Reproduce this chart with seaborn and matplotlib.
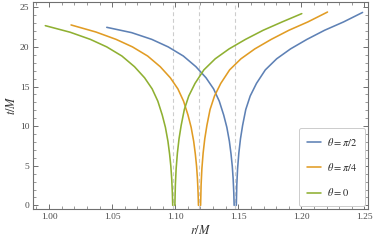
import numpy as np
import pandas as pd
import matplotlib
matplotlib.use("Agg")
import matplotlib.pyplot as plt
import seaborn as sns

# ---- data ----
labels = [r"$\theta=\pi/2$", r"$\theta=\pi/4$", r"$\theta=0$"]
colors = ["#5E81B5", "#E19C24", "#8FB032"]
r_horizon = [1.1474, 1.1191, 1.0986]

blue_r_left = [1.0457, 1.0654, 1.0814, 1.0944, 1.1064, 1.1164, 1.1244, 1.1304, 1.1349,
               1.1384, 1.1409, 1.1429, 1.1442, 1.1452, 1.1459, 1.1464, 1.1467]
blue_t_left = [22.47, 21.80, 20.95, 20.0, 18.85, 17.5, 16.1, 14.7, 13.15,
               11.4, 9.85, 8.1, 6.5, 4.95, 3.35, 1.6, 0.0]
blue_r_right = [1.1484, 1.1488, 1.1494, 1.1504, 1.1517, 1.1534, 1.1559, 1.1594,
                1.1644, 1.1714, 1.1804, 1.1914, 1.2044, 1.2184, 1.2334, 1.2485]
blue_t_right = [0.0, 2.6, 4.6, 6.6, 8.4, 10.1, 12.1, 13.8,
                15.4, 17.1, 18.5, 19.75, 20.95, 22.1, 23.15, 24.35]

orange_r_left = [1.0174, 1.0371, 1.0531, 1.0661, 1.0781, 1.0881, 1.0961, 1.1021, 1.1066,
                 1.1101, 1.1126, 1.1146, 1.1159, 1.1169, 1.1176, 1.1181, 1.1184]
orange_t_left = [22.77, 21.88, 20.95, 20.0, 18.85, 17.5, 16.1, 14.7, 13.15,
                 11.4, 9.85, 8.1, 6.5, 4.95, 3.35, 1.6, 0.0]
orange_r_right = [1.1201, 1.1205, 1.1211, 1.1221, 1.1234, 1.1251, 1.1276, 1.1311,
                  1.1361, 1.1431, 1.1521, 1.1631, 1.1761, 1.1901, 1.2051, 1.2207]
orange_t_right = [0.0, 2.6, 4.6, 6.6, 8.4, 10.1, 12.1, 13.8,
                  15.4, 17.1, 18.5, 19.75, 20.95, 22.1, 23.15, 24.4]

green_r_left = [0.9970, 1.0167, 1.0327, 1.0457, 1.0577, 1.0677, 1.0757, 1.0817, 1.0862,
                1.0897, 1.0922, 1.0942, 1.0955, 1.0965, 1.0972, 1.0977, 1.0980]
green_t_left = [22.68, 21.85, 20.95, 20.0, 18.85, 17.5, 16.1, 14.7, 13.15,
                11.4, 9.85, 8.1, 6.5, 4.95, 3.35, 1.6, 0.0]
green_r_right = [1.0997, 1.1001, 1.1007, 1.1017, 1.1030, 1.1047, 1.1072, 1.1107,
                 1.1157, 1.1227, 1.1317, 1.1427, 1.1557, 1.1697, 1.1847, 1.2003]
green_t_right = [0.0, 2.6, 4.6, 6.6, 8.4, 10.1, 12.1, 13.8,
                 15.4, 17.1, 18.5, 19.75, 20.95, 22.1, 23.15, 24.2]

xticks = [1.00, 1.05, 1.10, 1.15, 1.20, 1.25]
yticks = [0, 5, 10, 15, 20, 25]

# ---- build table ----
rows = []
series = [
    (labels[0], blue_r_left, blue_t_left, blue_r_right, blue_t_right),
    (labels[1], orange_r_left, orange_t_left, orange_r_right, orange_t_right),
    (labels[2], green_r_left, green_t_left, green_r_right, green_t_right),
]
for lab, rl, tl, rr, tr in series:
    for r, t in zip(rl, tl):
        rows.append((lab, "L", r, t))
    for r, t in zip(rr, tr):
        rows.append((lab, "R", r, t))
df = pd.DataFrame(rows, columns=["theta", "branch", "r", "t"])

sns.set_style("ticks")
plt.rcParams["font.family"] = ["Liberation Serif", "DejaVu Serif"]
plt.rcParams["mathtext.fontset"] = "stix"

fig = plt.figure(figsize=(3.74, 2.46), dpi=100)
ax = fig.add_axes([0.0874, 0.150, 0.8966, 0.842])

for rh in r_horizon:
    ax.axvline(rh, color="#cdcdcd", lw=0.8, ls=(0, (3.5, 2.5)), zorder=1)

sns.lineplot(data=df, x="r", y="t", hue="theta", units="branch", estimator=None,
             sort=False, palette=dict(zip(labels, colors)), hue_order=labels,
             lw=1.15, ax=ax, zorder=3)

ax.set_xlim(0.987, 1.2528)
ax.set_ylim(-0.47, 25.67)
ax.set_xticks(xticks)
ax.set_xticklabels([f"{v:.2f}" for v in xticks])
ax.set_yticks(yticks)
ax.xaxis.set_minor_locator(matplotlib.ticker.MultipleLocator(0.01))
ax.yaxis.set_minor_locator(matplotlib.ticker.MultipleLocator(1))
frame_col = "#707070"
for s in ax.spines.values():
    s.set_color(frame_col)
    s.set_linewidth(0.8)
ax.tick_params(which="both", direction="in", top=True, right=True, color=frame_col,
               labelsize=6.8, labelcolor="#4a4a4a", pad=3)
ax.tick_params(which="major", length=3.5, width=0.7)
ax.tick_params(which="minor", length=2, width=0.5)
ax.tick_params(axis="y", pad=2.5)
ax.set_xlabel(r"$r/M$", fontsize=9, color="#333333", labelpad=2)
ax.set_ylabel(r"$t/M$", fontsize=9, color="#333333", labelpad=1)

leg = ax.legend(loc="lower right", fontsize=7.5, frameon=True, fancybox=True,
                handlelength=1.35, handletextpad=0.55, labelspacing=1.25,
                borderpad=0.75, borderaxespad=0.3, edgecolor="#cccccc", framealpha=1)
for h in leg.get_lines():
    h.set_linewidth(1.15)
leg.get_frame().set_linewidth(0.7)

fig.savefig("out.png", dpi=100)
